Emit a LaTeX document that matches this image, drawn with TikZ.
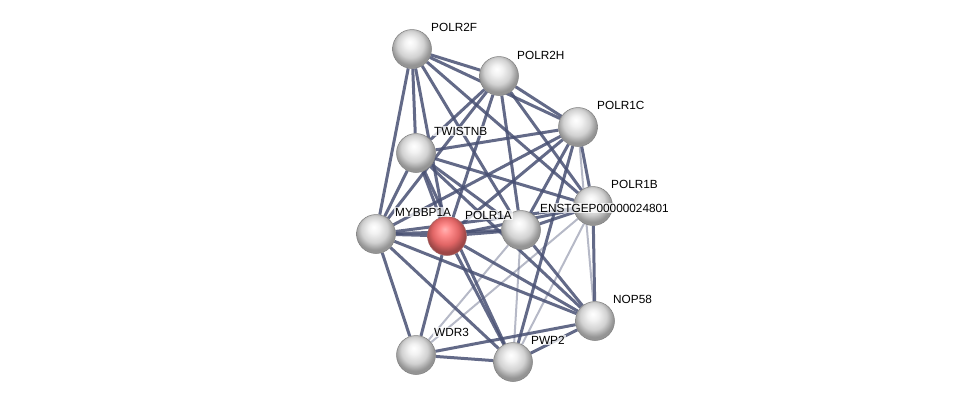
\documentclass[tikz,border=0pt]{standalone}
\usepackage{fontspec}
\setmainfont{Liberation Sans}
\usepackage{tikz,xcolor}
\usetikzlibrary{calc,backgrounds}

\definecolor{edgecol}{RGB}{72,80,115}
\pgfdeclareradialshading{greysphere}{\pgfpoint{-3bp}{9bp}}{color(0bp)=(white); color(7bp)=(white!95!black); color(17bp)=(white!82!black); color(25bp)=(white!58!black); color(50bp)=(white!58!black)}
\pgfdeclareradialshading{redsphere}{\pgfpoint{-3bp}{9bp}}{color(0bp)=(white!70!red); color(7bp)=(red!45!white); color(17bp)=(red!55!white!88!black); color(25bp)=(red!55!white!62!black); color(50bp)=(red!55!white!62!black)}

\tikzset{
  prot/.style={circle, minimum size=39pt, inner sep=0pt, shading=greysphere, draw=white!50!black, line width=0.5pt},
  hit/.style={prot, shading=redsphere, draw=red!40!black!60},
  lnk/.style={edgecol, line width=3pt, opacity=0.85},
  weak/.style={edgecol, line width=2pt, opacity=0.4},
  lbl/.style={anchor=west, font=\fontsize{11.8}{13}\selectfont, fill=white, fill opacity=0.75, text opacity=1, inner sep=1pt}
}

\begin{document}
\begin{tikzpicture}[x=1pt,y=-1pt]
\useasboundingbox (0,0) rectangle (976,407);

% proteins
\path (412,49) node[prot] (polrtwof) {};
\path (499,76) node[prot] (polrtwoh) {};
\path (578,127) node[prot] (polronec) {};
\path (416,153) node[prot] (twistnb) {};
\path (593,206) node[prot] (polroneb) {};
\path (376,234) node[prot] (mybbp) {};
\path (521,230) node[prot] (enstgep) {};
\path (595,321) node[prot] (nop) {};
\path (416,355) node[prot] (wdr) {};
\path (513,362) node[prot] (pwp) {};
\path (447,236) node[hit] (polronea) {};

% evidence links
\begin{scope}[on background layer]
\draw[lnk] (polrtwof) -- (polrtwoh); \draw[lnk] (polrtwof) -- (polronec); \draw[lnk] (polrtwof) -- (twistnb);
\draw[lnk] (polrtwof) -- (mybbp); \draw[lnk] (polrtwof) -- (polronea); \draw[lnk] (polrtwof) -- (enstgep);
\draw[lnk] (polrtwof) -- (polroneb);

\draw[lnk] (polrtwoh) -- (polronec); \draw[lnk] (polrtwoh) -- (twistnb); \draw[lnk] (polrtwoh) -- (mybbp);
\draw[lnk] (polrtwoh) -- (polronea); \draw[lnk] (polrtwoh) -- (enstgep); \draw[lnk] (polrtwoh) -- (polroneb);

\draw[lnk] (polronec) -- (twistnb); \draw[lnk] (polronec) -- (polronea); \draw[lnk] (polronec) -- (enstgep);
\draw[lnk] (polronec) -- (polroneb); \draw[lnk] (polronec) -- (mybbp); \draw[lnk] (polronec) -- (pwp);
\draw[weak] (polronec) -- (nop);

\draw[lnk] (twistnb) -- (polronea); \draw[lnk] (twistnb) -- (mybbp); \draw[lnk] (twistnb) -- (enstgep);
\draw[lnk] (twistnb) -- (polroneb); \draw[lnk] (twistnb) -- (nop); \draw[lnk] (twistnb) -- (pwp);

\draw[lnk] (polroneb) -- (polronea); \draw[lnk] (polroneb) -- (enstgep); \draw[lnk] (polroneb) -- (mybbp);
\draw[lnk] (polroneb) -- (nop); \draw[weak] (polroneb) -- (pwp); \draw[weak] (polroneb) -- (wdr);

\draw[lnk] (polronea) -- (mybbp); \draw[lnk] (polronea) -- (enstgep); \draw[lnk] (polronea) -- (wdr);
\draw[lnk] (polronea) -- (pwp); \draw[lnk] (polronea) -- (nop);

\draw[lnk] (enstgep) -- (mybbp); \draw[lnk] (enstgep) -- (nop); \draw[weak] (enstgep) -- (pwp);
\draw[weak] (enstgep) -- (wdr);

\draw[lnk] (mybbp) -- (wdr); \draw[lnk] (mybbp) -- (pwp); \draw[lnk] (mybbp) -- (nop);

\draw[lnk] (nop) -- (pwp); \draw[lnk] (nop) -- (wdr); \draw[lnk] (wdr) -- (pwp);
\end{scope}

% names
\node[lbl] at ($(polrtwof)+(18,-22)$) {POLR2F};
\node[lbl] at ($(polrtwoh)+(17,-21)$) {POLR2H};
\node[lbl] at ($(polronec)+(18,-22)$) {POLR1C};
\node[lbl] at ($(twistnb)+(17,-22)$) {TWISTNB};
\node[lbl] at ($(polroneb)+(17,-22)$) {POLR1B};
\node[lbl] at ($(mybbp)+(18,-22)$) {MYBBP1A};
\node[lbl] at ($(polronea)+(17,-21)$) {POLR1A};
\node[lbl] at ($(enstgep)+(18,-22)$) {ENSTGEP00000024801};
\node[lbl] at ($(nop)+(17,-22)$) {NOP58};
\node[lbl] at ($(wdr)+(17,-23)$) {WDR3};
\node[lbl] at ($(pwp)+(17,-22)$) {PWP2};

\end{tikzpicture}
\end{document}
